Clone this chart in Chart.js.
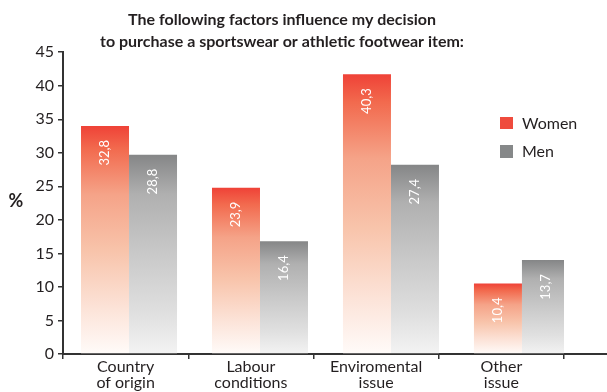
<!DOCTYPE html>
<html>
<head>
<meta charset="utf-8">
<script src="https://cdn.jsdelivr.net/npm/chart.js@4.4.1/dist/chart.umd.min.js"></script>
<style>
  body { margin: 0; background: #fff; }
  #wrap { width: 607px; height: 392px; position: relative; }
</style>
</head>
<body>
<div id="wrap"><canvas id="myChart"></canvas></div>
<script>
// DATA
const categories = [["Country", "of origin"], ["Labour", "conditions"], ["Enviromental", "issue"], ["Other", "issue"]];
const womenValues = [34.0, 24.8, 41.7, 10.5];
const menValues = [29.7, 16.8, 28.2, 14.0];
const womenText = ["32,8", "23,9", "40,3", "10,4"];
const menText = ["28,8", "16,4", "27,4", "13,7"];
const yTicks = [0, 5, 10, 15, 20, 25, 30, 35, 40, 45];

const textColor = "#231F20";
const axisColor = "#333333";

const womenStops = [[0, "#EF4237"], [0.1, "#F26A4E"], [0.3, "#F5A388"], [0.55, "#F8C4AB"], [0.8, "#FCE3D8"], [1, "#FFFBF9"]];
const menStops = [[0, "#858687"], [0.2, "#B0B0B0"], [0.5, "#C9C9C9"], [0.8, "#E0E0E0"], [1, "#F3F3F3"]];

Chart.defaults.font.family = "Lato";
Chart.defaults.color = textColor;

function barGradient(stops) {
  return function(context) {
    const chart = context.chart;
    if (!chart.chartArea || context.type !== "data") return stops[0][1];
    const y = chart.scales.y;
    const top = y.getPixelForValue(context.parsed.y);
    const bottom = y.getPixelForValue(0);
    const g = chart.ctx.createLinearGradient(0, top, 0, bottom);
    stops.forEach(s => g.addColorStop(s[0], s[1]));
    return g;
  };
}

// text inside the bars, legend, % label, axis tail
const extras = {
  id: "extras",
  afterDatasetsDraw(chart) {
    const ctx = chart.ctx;
    const texts = [womenText, menText];
    ctx.save();
    ctx.fillStyle = "#ffffff";
    ctx.font = "13px Lato";
    ctx.textAlign = "right";
    ctx.textBaseline = "middle";
    chart.data.datasets.forEach((ds, i) => {
      chart.getDatasetMeta(i).data.forEach((bar, j) => {
        ctx.save();
        ctx.translate(bar.x, bar.y + 14);
        ctx.rotate(-Math.PI / 2);
        ctx.fillText(texts[i][j], 0, 0);
        ctx.restore();
      });
    });
    ctx.restore();
  },
  afterDraw(chart) {
    const ctx = chart.ctx;
    const area = chart.chartArea;
    ctx.save();
    // axis line continues to the right edge
    ctx.strokeStyle = axisColor;
    ctx.lineWidth = 2;
    ctx.beginPath();
    ctx.moveTo(area.right, area.bottom);
    ctx.lineTo(chart.width, area.bottom);
    ctx.stroke();

    // legend
    ctx.fillStyle = "#EF4B3D";
    ctx.fillRect(500, 117, 13, 12);
    ctx.fillStyle = "#868889";
    ctx.fillRect(500, 145, 13, 13);
    ctx.fillStyle = textColor;
    ctx.font = "16px Lato";
    ctx.textAlign = "left";
    ctx.textBaseline = "middle";
    ctx.fillText("Women", 522, 124);
    ctx.fillText("Men", 522, 152);

    // % label
    ctx.font = "bold 18px Lato";
    ctx.textAlign = "center";
    ctx.fillText("%", 16, 201);
    ctx.restore();
  }
};

const ctx = document.getElementById("myChart").getContext("2d");

const myChart = new Chart(ctx, {
  type: "bar",
  data: {
    labels: categories,
    datasets: [
      {
        label: "Women",
        data: womenValues.map((v, i) => ({ x: i, y: v })),
        xAxisID: "xb",
        backgroundColor: barGradient(womenStops),
        borderWidth: 0
      },
      {
        label: "Men",
        data: menValues.map((v, i) => ({ x: i, y: v })),
        xAxisID: "xb",
        backgroundColor: barGradient(menStops),
        borderWidth: 0
      }
    ]
  },
  options: {
    responsive: true,
    maintainAspectRatio: false,
    animation: false,
    categoryPercentage: 0.733,
    barPercentage: 1,
    layout: { padding: { left: 0, right: 43, top: 0, bottom: 0 } },
    plugins: {
      legend: { display: false },
      tooltip: { enabled: false },
      title: {
        display: true,
        text: ["The following factors influence my decision", "to purchase a sportswear or athletic footwear item:"],
        color: textColor,
        font: { size: 16, weight: "bold", lineHeight: 1.35 },
        padding: { top: 9, bottom: 0 }
      }
    },
    scales: {
      x: {
        type: "category",
        offset: true,
        grid: { offset: true, drawOnChartArea: false, tickLength: 5, color: axisColor, lineWidth: 1.5 },
        border: { color: axisColor, width: 2 },
        ticks: { color: textColor, font: { size: 16, lineHeight: 1.0 }, padding: 0, maxRotation: 0, autoSkip: false },
        afterFit(scale) { scale.height = 38; }
      },
      xb: {
        type: "linear",
        axis: "x",
        display: false,
        offset: false,
        min: -0.504,
        max: 3.321,
        // one tick only, so the bar width comes from the spacing of the data
        afterBuildTicks(scale) { scale.ticks = [{ value: 0 }]; }
      },
      y: {
        min: 0,
        max: 45,
        afterBuildTicks(scale) { scale.ticks = yTicks.map(v => ({ value: v })); },
        grid: { drawOnChartArea: false, tickLength: 5, color: axisColor, lineWidth: 1.5 },
        border: { color: axisColor, width: 2 },
        ticks: { color: textColor, font: { size: 16 }, padding: 4 },
        afterFit(scale) { scale.width = 63; }
      }
    }
  },
  plugins: [extras]
});
</script>
</body>
</html>
